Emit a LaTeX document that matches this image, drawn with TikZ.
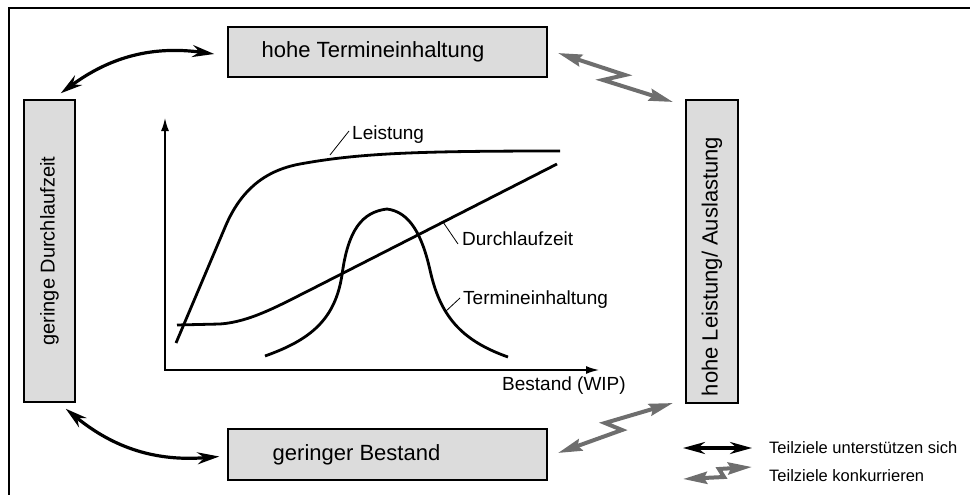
\documentclass[tikz,border=0pt]{standalone}
\usepackage{fontspec}
\setmainfont{Liberation Sans}
\usetikzlibrary{arrows.meta}
\definecolor{boxgray}{HTML}{DCDCDC}
\definecolor{conflict}{HTML}{6E6E6E}
\begin{document}
\begin{tikzpicture}[x=1pt,y=-1pt,
  goalbox/.style={draw=black,line width=1.4pt,fill=boxgray,inner sep=0pt,
    font=\fontsize{22}{26}\selectfont},
  support/.style={line width=3.2pt,{Stealth[length=22pt,width=12pt]}-{Stealth[length=22pt,width=12pt]}},
  conflict/.style={draw=conflict,line width=4pt,line join=miter,
    {Stealth[length=24pt,width=12pt,inset=3pt]}-{Stealth[length=24pt,width=12pt,inset=3pt]}},
  curve/.style={line width=2.8pt},
  leader/.style={line width=0.8pt},
  chartlabel/.style={anchor=west,inner sep=0pt,font=\fontsize{19}{22}\selectfont},
  legendlabel/.style={anchor=west,inner sep=0pt,font=\fontsize{16.5}{20}\selectfont}]
\useasboundingbox (0,0) rectangle (970,495);

% frame
\draw[line width=2.6pt] (9,495) -- (9,8) -- (970,8);

% goal boxes
\node[goalbox,minimum width=319pt,minimum height=50pt] (top) at (387.5,52) {\hspace*{-29pt}hohe Termineinhaltung};
\node[goalbox,minimum width=319pt,minimum height=51pt] (bottom) at (387.5,454.5) {\hspace*{-62pt}geringer Bestand};
\node[goalbox,minimum width=51pt,minimum height=302pt,font=\fontsize{20}{24}\selectfont] (left) at (49.5,251) {\rotatebox{90}{geringe Durchlaufzeit}};
\node[goalbox,minimum width=52pt,minimum height=303pt] (right) at (712,251.5) {\rotatebox{90}{\hspace*{-30pt}hohe Leistung/ Auslastung}};

% supporting relations
\coordinate (tl1) at ([xshift=-15pt,yshift=6pt]left.north east);
\coordinate (tl2) at ([xshift=-13pt,yshift=-2pt]top.west);
\draw[support] (tl1) to[bend left=22] (tl2);
\coordinate (bl1) at ([xshift=-10pt,yshift=-6pt]left.south east);
\coordinate (bl2) at ([xshift=-8pt,yshift=-2pt]bottom.west);
\draw[support] (bl1) to[bend right=22] (bl2);

% competing relations
\coordinate (tr1) at (558,53);
\coordinate (tr2) at (673,102);
\draw[conflict] (tr1) -- (625,75) -- (603,80) -- (tr2);
\coordinate (br1) at (673,403);
\coordinate (br2) at (558,453);
\draw[conflict] (br1) -- (605,423) -- (622,430) -- (br2);

% chart axes
\coordinate (O) at (165,370);
\coordinate (ytop) at (165,118);
\coordinate (xend) at (599,370);
\draw[line width=1.6pt,{Latex[length=13pt,width=8pt]}-{Latex[length=13pt,width=8pt]}] (ytop) -- (O) -- (xend);
\node[chartlabel] (wip) at (502,386) {Bestand (WIP)};

% Leistung
\draw[curve] (176,343) -- (226,225) .. controls (240,193) and (262,171) .. (300,164)
  .. controls (360,153) and (420,151) .. (560,151);
% Durchlaufzeit
\draw[curve] (177,325) -- (220,324) .. controls (250,322) and (280,305) .. (310,290) -- (557,164);
% Termineinhaltung
\draw[curve] (265,356) .. controls (310,340) and (335,320) .. (342,275)
  .. controls (348,230) and (362,212) .. (387,209)
  .. controls (410,212) and (422,235) .. (430,270)
  .. controls (440,315) and (460,340) .. (508,357);

% curve labels
\node[chartlabel] (lLeistung) at (352,135) {Leistung};
\node[chartlabel] (lDlz) at (462,239) {Durchlaufzeit};
\node[chartlabel] (lTe) at (463,300) {Termineinhaltung};
\draw[leader] (330,155) -- ([xshift=-3pt,yshift=4pt]lLeistung.west);
\draw[leader] (443,222) -- ([xshift=-4pt,yshift=-5pt]lDlz.west);
\draw[leader] (445,312) -- ([xshift=-3pt,yshift=2pt]lTe.west);

% legend
\coordinate (lg1) at (683,448);
\coordinate (lg2) at (752,448);
\draw[support] (lg1) -- (lg2);
\node[legendlabel] (lgs) at (769,448) {Teilziele unterstützen sich};
\coordinate (lk1) at (752,467);
\coordinate (lk2) at (683,479);
\draw[conflict] (lk1) -- (719,469) -- (724,477) -- (lk2);
\node[legendlabel] (lgk) at (769,476) {Teilziele konkurrieren};
\end{tikzpicture}
\end{document}
